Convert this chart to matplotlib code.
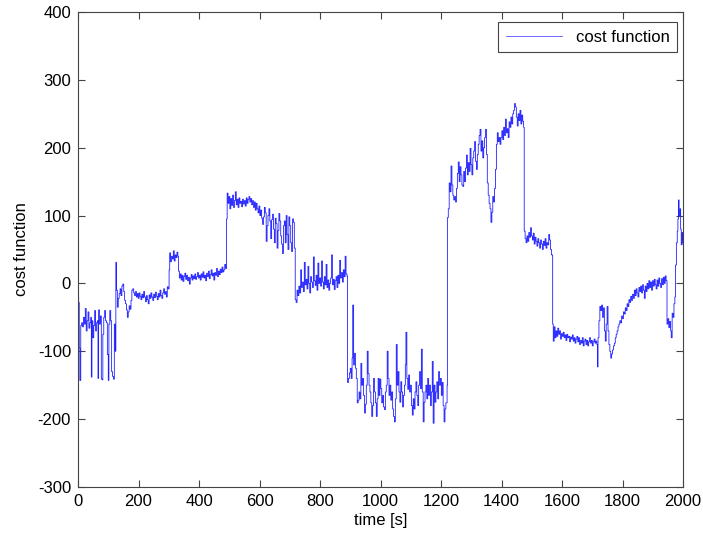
import matplotlib
matplotlib.use('Agg')
import matplotlib.pyplot as plt

plt.rcParams['font.family'] = ['Liberation Sans', 'DejaVu Sans']
plt.rcParams['font.size'] = 12
plt.rcParams['axes.unicode_minus'] = False

# sample times [s]
time_s = [
    0, 2, 4, 6, 9, 12, 15, 18, 21, 24,
    27, 30, 33, 36, 39, 42, 44, 46, 49, 52,
    55, 58, 61, 64, 66, 68, 71, 74, 77, 80,
    82, 85, 88, 91, 94, 97, 100, 102, 105, 108,
    111, 114, 117, 120, 123, 125, 127, 130,
    133, 136, 139, 142, 145, 148, 151, 154, 157, 160,
    163, 166, 169, 172, 175, 178, 181, 184, 187, 190,
    193, 196, 199, 202, 205, 208, 211, 214, 217, 220,
    223, 226, 229, 232, 235, 238, 241, 244, 247, 250,
    253, 256, 259, 262, 265, 268, 271, 274, 277, 280,
    283, 286, 289, 292, 295, 298,
    301, 303, 306, 309, 312, 315, 318, 321, 324, 327, 330,
    332, 335, 338, 341, 344, 347, 350, 353, 356, 359,
    362, 365, 368, 371, 374, 377, 380, 383, 386, 389,
    392, 395, 398, 401, 404, 407, 410, 413, 416, 419,
    422, 425, 428, 431, 434, 437, 440, 443, 446, 449,
    452, 455, 458, 461, 464, 467, 470, 473, 476, 479,
    482, 485, 488,
    491, 493, 496, 499, 502, 505, 508, 511, 514, 517,
    520, 523, 526, 529, 532, 535, 538, 541, 544, 547,
    550, 553, 556, 559, 562, 565, 568, 571, 574, 577,
    580, 583, 586, 589, 592, 595, 598, 601, 604, 607,
    610, 613, 616, 619, 622, 625, 628, 631, 634, 637,
    640, 643, 646, 649, 652, 655, 658, 661, 664, 667,
    670, 673, 676, 679, 682, 685, 688, 691, 694, 697,
    700, 703, 706, 709, 712, 715,
    718, 721, 724, 727, 730, 733, 736, 739, 742, 745,
    748, 751, 754, 757, 760, 763, 766, 769, 772, 775,
    778, 781, 784, 787, 790, 793, 796, 799, 802, 805,
    808, 811, 814, 817, 820, 823, 826, 829, 832, 835,
    838, 841, 844, 847, 850, 853, 856, 859, 862, 865,
    868, 871, 874, 877, 880, 883, 886, 889,
    891, 894, 897, 900, 903, 906, 908, 911, 914, 917,
    920, 923, 926, 929, 932, 935, 938, 941, 944, 947,
    950, 953, 956, 959, 962, 965, 968, 971, 974, 977,
    980, 983, 986, 989, 992, 995, 998, 1001, 1004, 1007,
    1010, 1013, 1016, 1019, 1022, 1025, 1028, 1031, 1034, 1037,
    1040, 1043, 1046, 1049, 1052, 1055, 1058, 1061, 1064, 1067,
    1070, 1073, 1076, 1079, 1082, 1084, 1087, 1090, 1093, 1096,
    1099, 1102, 1105, 1108, 1111, 1114, 1117, 1120, 1123, 1126,
    1129, 1132, 1135, 1138, 1141, 1144, 1147, 1150, 1153, 1156,
    1159, 1162, 1165, 1168, 1171, 1174, 1177, 1180, 1183, 1186,
    1189, 1192, 1195, 1198, 1201, 1204, 1207, 1210, 1213, 1216,
    1220, 1221, 1224, 1227, 1230, 1233, 1236, 1239, 1242, 1245,
    1248, 1251, 1254, 1257, 1260, 1263, 1266, 1269, 1272, 1275,
    1278, 1281, 1284, 1287, 1290, 1293, 1296, 1299, 1302, 1305,
    1308, 1311, 1314, 1317, 1320, 1323, 1326, 1329, 1332, 1335,
    1338, 1341, 1344, 1347, 1350, 1353, 1356, 1359, 1362, 1365,
    1368, 1371, 1374, 1377, 1380, 1383, 1386, 1389, 1392, 1395,
    1398, 1401, 1404, 1407, 1410, 1413, 1416, 1419, 1422, 1425,
    1428, 1431, 1434, 1437, 1440, 1443, 1446, 1449, 1452, 1455,
    1458, 1461, 1464, 1467, 1470, 1473,
    1475, 1478, 1481, 1484, 1487, 1490, 1493, 1496, 1499, 1502,
    1505, 1508, 1511, 1514, 1517, 1520, 1523, 1526, 1529, 1532,
    1535, 1538, 1541, 1544, 1547, 1550, 1553, 1556, 1559, 1562,
    1565,
    1569, 1571, 1574, 1577, 1580, 1583, 1586, 1589, 1592, 1595,
    1598, 1601, 1604, 1607, 1610, 1613, 1616, 1619, 1622, 1625,
    1628, 1631, 1634, 1637, 1640, 1643, 1646, 1649, 1652, 1655,
    1658, 1661, 1664, 1667, 1670, 1673, 1676, 1679, 1682, 1685,
    1688, 1691, 1694, 1697, 1700, 1703, 1706, 1709, 1712, 1715,
    1717, 1719,
    1722, 1725, 1728, 1731, 1734, 1737, 1740, 1743, 1746, 1749,
    1752, 1755, 1758, 1761, 1764, 1767, 1770, 1773, 1776, 1779,
    1782, 1785, 1788, 1791, 1794, 1797, 1800, 1803, 1806, 1809,
    1812, 1815, 1818, 1821, 1824, 1827, 1830, 1833, 1836, 1839,
    1842, 1845, 1848, 1851, 1854, 1857, 1860, 1863, 1866, 1869,
    1872, 1875, 1878, 1881, 1884, 1887, 1890, 1893, 1896, 1899,
    1902, 1905, 1908, 1911, 1914, 1917, 1920, 1923, 1926, 1929,
    1932, 1935, 1938, 1941, 1944,
    1947, 1950, 1953, 1956, 1959, 1961, 1964, 1967, 1970, 1973,
    1975, 1978, 1981, 1983, 1985, 1987, 1990, 1992, 1994, 1997,
    1999, 2000,
]

# cost function values
cost = [
    -20, -28, -95, -143, -62, -58, -64, -50, -60, -37,
    -70, -55, -42, -66, -58, -50, -138, -55, -80, -62,
    -40, -70, -58, -55, -140, -39, -60, -48, -141, -142,
    -75, -50, -40, -55, -58, -105, -143, -60, -40, -55,
    -130, -137, -141, -60, -100, 31, -10, -35,
    -22, -15, -8, -18, -4, -1, -12, -25, -30, -39,
    -50, -42, -33, -38, -25, -10, -8, -14, -18, -12,
    -20, -15, -22, -14, -19, -24, -16, -21, -12, -20,
    -27, -18, -24, -30, -17, -22, -14, -20, -25, -16,
    -21, -13, -19, -24, -15, -20, -10, -18, -22, -14,
    -8, -16, -12, -20, -5, -8,
    20, 45, 32, 40, 36, 48, 33, 42, 38, 46, 40,
    18, 8, 14, 5, 12, 3, 10, 15, 6, 12,
    4, 9, -1, 8, 13, 5, 11, 7, 14, 6,
    10, 16, 8, 12, 5, 14, 9, 17, 8, 12,
    4, 15, 10, 18, 7, 13, 20, 11, 15, 5,
    16, 12, 22, 10, 18, 13, 21, 16, 24, 17,
    20, 28, 22,
    95, 133, 118, 128, 110, 125, 115, 130, 112, 122,
    135, 116, 124, 112, 126, 118, 121, 113, 124, 117,
    122, 114, 126, 118, 124, 128, 120, 125, 116, 122,
    112, 120, 108, 118, 110, 104, 114, 100, 108, 96,
    87, 98, 112, 104, 62, 85, 100, 110, 92, 66,
    94, 102, 80, 60, 96, 88, 52, 78, 103, 92,
    70, 58, 44, 85, 92, 60, 100, 72, 50, 98,
    85, 60, 47, 95, 90, 52,
    -24, -28, -10, -18, -4, -14, 20, -6, 2, -12,
    31, -2, 6, -8, 25, 0, -14, 10, 2, -6,
    39, 4, -3, 12, -10, 30, 0, 8, -4, 33,
    2, -8, 10, -2, 28, -6, 5, -10, 0, 8,
    42, -2, 6, -9, 4, 10, -6, 12, 0, 34,
    8, 16, 2, 20, 10, 40, 14, 11,
    -146, -140, -132, -125, -140, -110, -32, -120, -103, -125,
    -140, -176, -172, -160, -170, -118, -150, -140, -165, -191,
    -178, -150, -100, -133, -150, -160, -176, -196, -180, -140,
    -160, -176, -196, -170, -140, -165, -141, -155, -176, -165,
    -182, -186, -160, -150, -100, -140, -165, -150, -172, -160,
    -185, -196, -204, -170, -90, -150, -130, -160, -175, -145,
    -160, -182, -165, -150, -120, -72, -140, -156, -135, -160,
    -150, -180, -194, -170, -185, -160, -145, -165, -180, -150,
    -130, -155, -97, -160, -204, -175, -160, -150, -170, -140,
    -165, -150, -180, -160, -115, -206, -150, -175, -160, -145,
    -170, -130, -150, -140, -165, -146, -180, -204, -185, -176,
    -150, 97, 110, 148, 135, 173, 145, 130, 123, 128,
    120, 140, 162, 179, 150, 172, 160, 145, 143, 165,
    150, 170, 189, 160, 178, 165, 199, 175, 160, 185,
    195, 209, 180, 168, 190, 205, 218, 227, 195, 210,
    185, 200, 215, 227, 190, 148, 130, 118, 110, 90,
    105, 128, 120, 140, 168, 205, 222, 209, 215, 205,
    215, 225, 212, 230, 218, 242, 222, 228, 215, 238,
    230, 245, 235, 250, 255, 265, 260, 245, 232, 250,
    240, 255, 235, 248, 239, 230,
    77, 66, 60, 70, 62, 75, 68, 82, 70, 64,
    74, 58, 68, 62, 55, 66, 60, 52, 64, 58,
    50, 62, 56, 66, 52, 60, 57, 72, 64, 50,
    42,
    -60, -85, -64, -80, -70, -78, -66, -75, -70, -82,
    -74, -78, -72, -80, -76, -84, -75, -80, -78, -86,
    -79, -82, -76, -85, -80, -88, -82, -78, -86, -80,
    -90, -84, -88, -80, -92, -85, -82, -90, -84, -92,
    -86, -80, -88, -84, -92, -86, -82, -88, -85, -90,
    -123, -80,
    -55, -34, -40, -32, -50, -36, -70, -85, -60, -34,
    -70, -90, -100, -110, -104, -98, -92, -88, -80, -75,
    -70, -64, -60, -55, -58, -48, -52, -42, -45, -36,
    -40, -30, -34, -24, -28, -19, -25, -16, -22, -10,
    -18, -8, -14, -20, -6, -12, -4, -14, -2, -10,
    -22, -4, -12, 0, -8, 4, -6, 2, -10, 4,
    -4, 6, -2, -8, 5, -4, 8, 0, -6, 7,
    -2, 9, 0, 11, 4,
    -60, -52, -65, -56, -70, -80, -44, -50, -30, -20,
    27, 60, 77, 95, 123, 100, 110, 80, 57, 75,
    65, 60,
]

x_ticks = list(range(0, 2001, 200))
y_ticks = list(range(-300, 401, 100))

fig = plt.figure(figsize=(7.03, 5.42), dpi=100)
ax = fig.add_axes([0.111, 0.1015, 0.8606, 0.8764])

ax.plot(time_s, cost, color='#2020ff', lw=0.6, drawstyle='steps-post',
        label='cost function')

ax.set_xlim(0, 2000)
ax.set_ylim(-300, 400)
ax.set_xticks(x_ticks)
ax.set_yticks(y_ticks)
ax.tick_params(direction='in', top=True, right=True, length=4.8,
               color='#444444', pad=5)
for s in ax.spines.values():
    s.set_color('#444444')
    s.set_linewidth(0.8)

ax.set_xlabel('time [s]', labelpad=3)
ax.set_ylabel('cost function', labelpad=6)

leg = ax.legend(loc='upper right', bbox_to_anchor=(677 / 703, 1 - 22 / 542),
                bbox_transform=fig.transFigure, borderaxespad=0,
                fancybox=False, framealpha=1, edgecolor='#444444',
                handlelength=3.4, borderpad=0.45)
leg.get_frame().set_linewidth(0.8)
leg.get_lines()[0].set_color('#5555ff')

fig.savefig('out.png', dpi=100)
